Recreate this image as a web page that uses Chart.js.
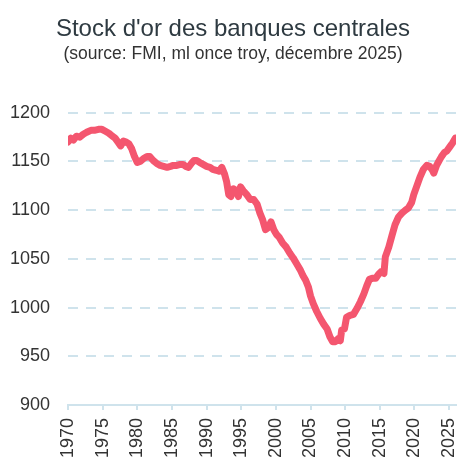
<!DOCTYPE html>
<html>
<head>
<meta charset="utf-8">
<script src="https://cdn.jsdelivr.net/npm/chart.js@4"></script>
<style>
  html, body { margin: 0; padding: 0; background: #fff; }
</style>
</head>
<body>
<canvas id="goldChart" width="463" height="469"></canvas>
<script>
// stock d'or, millions d'onces troy
const years = [
  1970.0, 1970.4, 1970.8, 1971.2, 1971.7, 1972.2, 1972.7, 1973.3, 1973.8, 1974.4,
  1974.9, 1975.4, 1975.9, 1976.4, 1976.8, 1977.2, 1977.6, 1978.0, 1978.4, 1978.8,
  1979.2, 1979.6, 1980.0, 1980.4, 1980.9, 1981.4, 1981.8, 1982.3, 1982.8, 1983.3,
  1983.8, 1984.3, 1984.8, 1985.2, 1985.7, 1986.2, 1986.6, 1987.0, 1987.4, 1987.8,
  1988.2, 1988.6, 1989.0, 1989.5, 1990.0, 1990.5, 1990.9, 1991.4, 1991.8, 1992.2,
  1992.6, 1992.9, 1993.2, 1993.5, 1993.9, 1994.3, 1994.6, 1994.9, 1995.3, 1995.8,
  1996.3, 1996.8, 1997.3, 1997.7, 1998.1, 1998.5, 1998.9, 1999.3, 1999.7, 2000.1,
  2000.5, 2001.0, 2001.5, 2002.0, 2002.5, 2003.0, 2003.5, 2003.9, 2004.3, 2004.7,
  2005.0, 2005.4, 2005.9, 2006.4, 2006.9, 2007.4, 2007.8, 2008.2, 2008.6, 2009.0,
  2009.3, 2009.5, 2009.9, 2010.2, 2010.7, 2011.2, 2011.7, 2012.2, 2012.7, 2013.1,
  2013.5, 2013.9, 2014.4, 2014.8, 2015.2, 2015.6, 2015.8, 2016.3, 2016.8, 2017.2,
  2017.7, 2018.2, 2018.7, 2019.1, 2019.6, 2019.9, 2020.3, 2020.8, 2021.3, 2021.8,
  2022.2, 2022.6, 2022.8, 2023.2, 2023.5, 2023.9, 2024.3, 2024.7, 2025.1, 2025.5,
  2025.9
];
const stock = [
  1170, 1174, 1172, 1176, 1175, 1178, 1180, 1182, 1182, 1183,
  1183, 1181, 1179, 1176, 1174, 1170, 1166, 1171, 1170, 1168,
  1163, 1155, 1149, 1150, 1153, 1155, 1155, 1151, 1148, 1146,
  1145, 1144, 1145, 1146, 1146, 1147, 1147, 1145, 1144, 1148,
  1151, 1151, 1149, 1147, 1145, 1144, 1142, 1141, 1140, 1144,
  1137, 1129, 1116, 1114, 1122, 1120, 1114, 1124, 1120, 1116,
  1111, 1111, 1106, 1097, 1090, 1080, 1082, 1088, 1080, 1075,
  1072, 1066, 1062, 1056, 1051, 1045, 1039, 1033, 1028, 1021,
  1012, 1004, 996, 989, 983, 978, 970, 965, 965, 968,
  966, 977, 978, 990, 992, 993, 999, 1006, 1014, 1022,
  1029, 1030, 1030, 1034, 1037, 1035, 1052, 1062, 1075, 1085,
  1093, 1097, 1100, 1102, 1108, 1116, 1124, 1134, 1142, 1146,
  1145, 1141, 1138, 1146, 1150, 1155, 1159, 1161, 1165, 1169,
  1174
];

const lineColor = "#F4566F";
const gridColor = "#cfe3ec";

const points = years.map((y, i) => ({ x: y, y: stock[i] }));

new Chart("goldChart", {
  type: "line",
  data: {
    datasets: [
      {
        data: points,
        borderColor: lineColor,
        borderWidth: 7,
        borderJoinStyle: "round",
        borderCapStyle: "round",
        pointRadius: 0,
        tension: 0
      }
    ]
  },
  options: {
    responsive: false,
    animation: false,
    layout: { padding: { left: 10, right: 7, top: 0, bottom: 3 } },
    plugins: {
      legend: { display: false },
      tooltip: { enabled: false },
      title: {
        display: true,
        text: "Stock d'or des banques centrales",
        color: "#2e3a41",
        font: { family: "Liberation Sans", size: 24, weight: "normal" },
        padding: { top: 15, bottom: 0 }
      },
      subtitle: {
        display: true,
        text: "(source: FMI, ml once troy, décembre 2025)",
        color: "#333",
        font: { family: "Liberation Sans", size: 17.5 },
        padding: { top: 0, bottom: 48 }
      }
    },
    scales: {
      x: {
        type: "linear",
        min: 1970,
        max: 2026,
        afterFit: s => { s.paddingLeft = 0; s.paddingRight = 0; },
        grid: { drawOnChartArea: false, drawTicks: true, tickLength: 5, color: gridColor, lineWidth: 2 },
        border: { display: true, color: gridColor, width: 2 },
        ticks: {
          stepSize: 5,
          includeBounds: false,
          minRotation: 90,
          maxRotation: 90,
          padding: 8,
          color: "#333",
          font: { family: "Liberation Sans", size: 18 },
          callback: v => String(v)
        }
      },
      y: {
        min: 900,
        max: 1200,
        afterFit: s => { s.width = 58; },
        grid: { color: gridColor, lineWidth: 2, drawTicks: false },
        border: { display: false, dash: [10, 8] },
        ticks: {
          stepSize: 50,
          padding: 18,
          color: "#333",
          font: { family: "Liberation Sans", size: 18 },
          callback: v => String(v)
        }
      }
    }
  }
});
</script>
</body>
</html>
